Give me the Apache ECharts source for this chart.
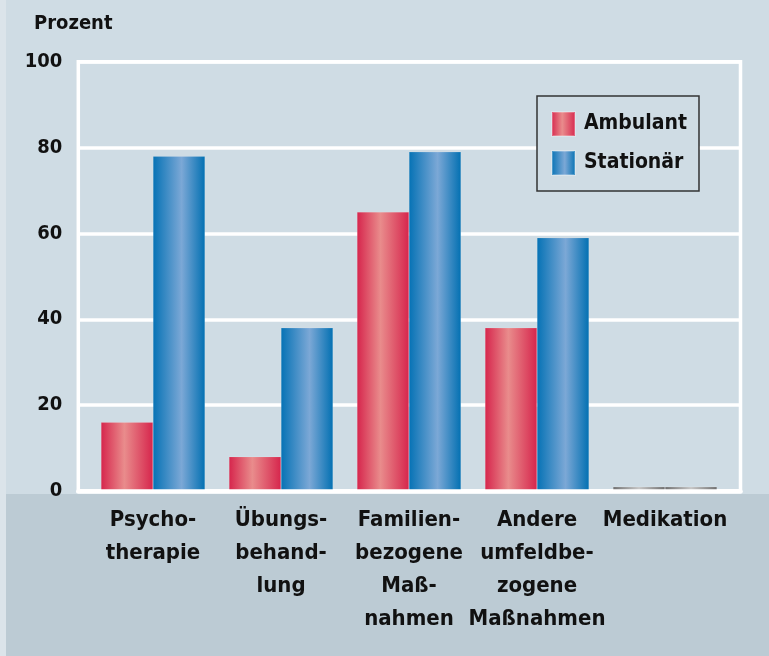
<!DOCTYPE html>
<html>
<head>
<meta charset="utf-8">
<script src="https://cdn.jsdelivr.net/npm/echarts@6/dist/echarts.min.js"></script>
<style>
html,body{margin:0;padding:0;background:#cfdce4;}
#chart{width:769px;height:656px;}
</style>
</head>
<body>
<div id="chart"></div>
<script>
var categories = ["Psycho-\ntherapie", "Übungs-\nbehand-\nlung", "Familien-\nbezogene\nMaß-\nnahmen", "Andere\numfeldbe-\nzogene\nMaßnahmen", "Medikation"];
var ambulant = [16, 8, 65, 38, 1];
var stationaer = [78, 38, 79, 59, 1];
var seriesNames = ["Ambulant", "Stationär"];
var yTicks = [0, 20, 40, 60, 80, 100];

var FONT = "'Liberation Sans Narrow','DejaVu Sans Condensed','Roboto Condensed',sans-serif";

function grad(stops){
  return new echarts.graphic.LinearGradient(0,0,1,0, stops.map(function(s){return {offset:s[0],color:s[1]};}));
}
var redGrad = grad([[0,'#d6254c'],[0.45,'#e98c8c'],[1,'#d6254c']]);
var blueGrad = grad([[0,'#0572b5'],[0.55,'#7ca8d6'],[1,'#0270b2']]);
var greyGrad = grad([[0,'#6f6f6f'],[0.5,'#c6c6c6'],[1,'#6f6f6f']]);

function withGrey(arr){
  return arr.map(function(v, i){
    if (categories[i] === 'Medikation') return {value: v, itemStyle: {color: greyGrad}};
    return v;
  });
}

var chart = echarts.init(document.getElementById('chart'));
chart.setOption({
  backgroundColor: '#cfdce4',
  animation: false,
  textStyle: {fontFamily: FONT},
  graphic: [
    {type:'rect', z:-10, shape:{x:0,y:494,width:769,height:162}, style:{fill:'#bccbd4'}},
    {type:'rect', z:-10, shape:{x:0,y:0,width:6,height:656}, style:{fill:'#dbe4ea'}}
  ],
  title: {
    text: 'Prozent', left: 29, top: 9,
    textStyle: {fontFamily: FONT, fontSize: 20, fontWeight: 'bold', color: '#111'}
  },
  legend: {
    orient: 'vertical',
    left: 537, top: 96,
    padding: [15, 12, 15, 14],
    itemWidth: 23, itemHeight: 24, itemGap: 13,
    backgroundColor: '#cfdce4',
    borderColor: '#333', borderWidth: 1.5,
    textStyle: {fontFamily: FONT, fontSize: 21, fontWeight: 'bold', color: '#111', padding: [0,0,0,4]},
    data: [
      {name: seriesNames[0], icon: 'rect'},
      {name: seriesNames[1], icon: 'rect'}
    ]
  },
  grid: [
    {left: 78.3, right: 28.5, top: 61.7, bottom: 165, show: true, borderColor: '#ffffff', borderWidth: 3.5, backgroundColor: 'transparent'},
    {left: 89, right: 40, top: 61.7, bottom: 165}
  ],
  xAxis: [
    {gridIndex: 0, type: 'value', min: 0, max: 1, z: 10,
     axisLine: {show: true, lineStyle: {color: '#ffffff', width: 4.5}},
     axisTick: {show: false}, axisLabel: {show: false}, splitLine: {show: false}},
    {gridIndex: 1, type: 'category', data: categories,
     axisLine: {show: false}, axisTick: {show: false},
     axisLabel: {interval: 0, margin: 13, fontFamily: FONT, fontSize: 22, fontWeight: 'bold', color: '#111', lineHeight: 33}}
  ],
  yAxis: [
    {gridIndex: 0, type: 'value', min: yTicks[0], max: yTicks[yTicks.length-1], interval: 20,
     axisLine: {show: false}, axisTick: {show: false},
     axisLabel: {margin: 16, fontFamily: FONT, fontSize: 20, fontWeight: 'bold', color: '#111'},
     splitLine: {show: true, lineStyle: {color: '#ffffff', width: 3.5}}},
    {gridIndex: 1, type: 'value', min: 0, max: 100,
     show: false, splitLine: {show: false}}
  ],
  series: [
    {name: seriesNames[0], type: 'bar', xAxisIndex: 1, yAxisIndex: 1,
     data: withGrey(ambulant), barGap: '0%', barCategoryGap: '18.75%',
     itemStyle: {color: redGrad, borderColor: 'rgba(255,255,255,0.25)', borderWidth: 0.5}},
    {name: seriesNames[1], type: 'bar', xAxisIndex: 1, yAxisIndex: 1,
     data: withGrey(stationaer), barGap: '0%', barCategoryGap: '18.75%',
     itemStyle: {color: blueGrad, borderColor: 'rgba(255,255,255,0.25)', borderWidth: 0.5}}
  ]
});
</script>
</body>
</html>
